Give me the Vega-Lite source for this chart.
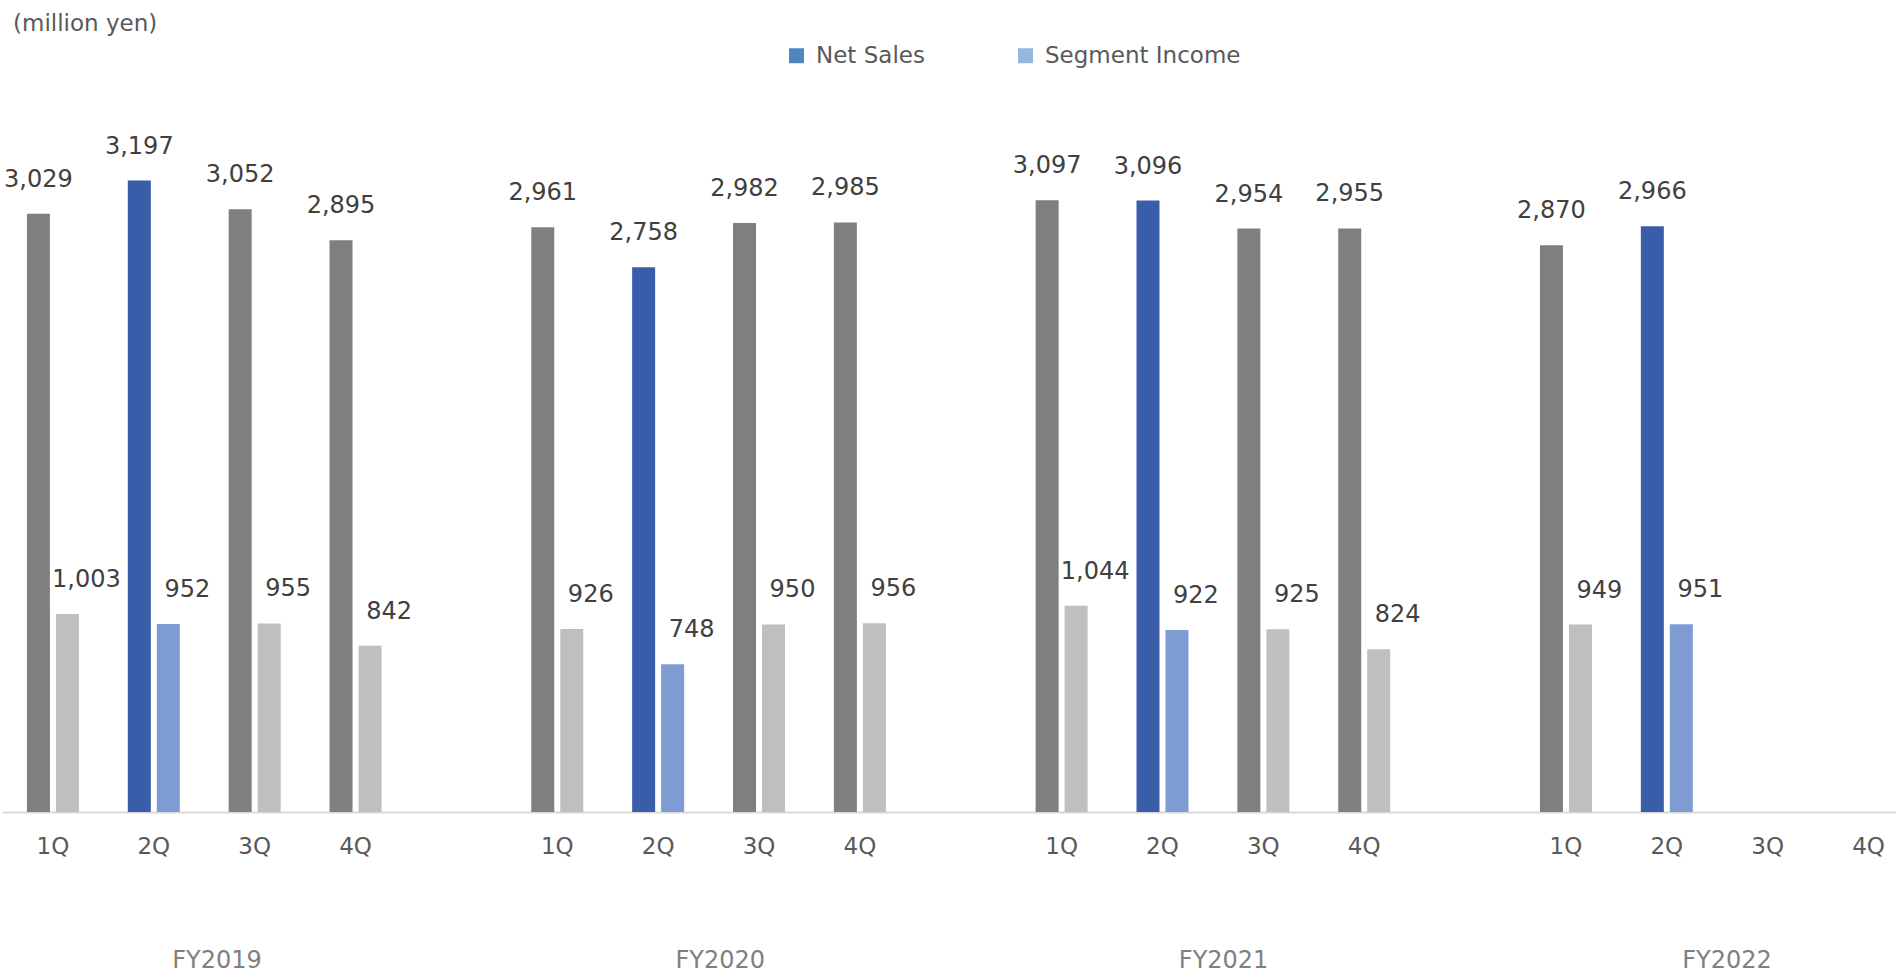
{
  "$schema": "https://vega.github.io/schema/vega-lite/v6.json",
  "width": 1896,
  "height": 711,
  "autosize": {"type": "none"},
  "padding": {"left": 0, "right": 0, "top": 101, "bottom": 162},
  "background": "white",
  "config": {"view": {"stroke": null}, "font": "DejaVu Sans"},
  "title": {
    "text": "(million yen)",
    "anchor": "start",
    "frame": "group",
    "orient": "top",
    "fontSize": 23,
    "fontWeight": "normal",
    "color": "#595959",
    "font": "DejaVu Sans",
    "baseline": "alphabetic",
    "dx": 13,
    "offset": -10
  },
  "datasets": {
    "sales": [
      {"fy": "FY2019", "q": "1Q", "slot": "FY2019|1Q", "series": "Net Sales", "value": 3029},
      {"fy": "FY2019", "q": "2Q", "slot": "FY2019|2Q", "series": "Net Sales", "value": 3197},
      {"fy": "FY2019", "q": "3Q", "slot": "FY2019|3Q", "series": "Net Sales", "value": 3052},
      {"fy": "FY2019", "q": "4Q", "slot": "FY2019|4Q", "series": "Net Sales", "value": 2895},
      {"fy": "FY2020", "q": "1Q", "slot": "FY2020|1Q", "series": "Net Sales", "value": 2961},
      {"fy": "FY2020", "q": "2Q", "slot": "FY2020|2Q", "series": "Net Sales", "value": 2758},
      {"fy": "FY2020", "q": "3Q", "slot": "FY2020|3Q", "series": "Net Sales", "value": 2982},
      {"fy": "FY2020", "q": "4Q", "slot": "FY2020|4Q", "series": "Net Sales", "value": 2985},
      {"fy": "FY2021", "q": "1Q", "slot": "FY2021|1Q", "series": "Net Sales", "value": 3097},
      {"fy": "FY2021", "q": "2Q", "slot": "FY2021|2Q", "series": "Net Sales", "value": 3096},
      {"fy": "FY2021", "q": "3Q", "slot": "FY2021|3Q", "series": "Net Sales", "value": 2954},
      {"fy": "FY2021", "q": "4Q", "slot": "FY2021|4Q", "series": "Net Sales", "value": 2955},
      {"fy": "FY2022", "q": "1Q", "slot": "FY2022|1Q", "series": "Net Sales", "value": 2870},
      {"fy": "FY2022", "q": "2Q", "slot": "FY2022|2Q", "series": "Net Sales", "value": 2966},
      {"fy": "FY2019", "q": "1Q", "slot": "FY2019|1Q", "series": "Segment Income", "value": 1003},
      {"fy": "FY2019", "q": "2Q", "slot": "FY2019|2Q", "series": "Segment Income", "value": 952},
      {"fy": "FY2019", "q": "3Q", "slot": "FY2019|3Q", "series": "Segment Income", "value": 955},
      {"fy": "FY2019", "q": "4Q", "slot": "FY2019|4Q", "series": "Segment Income", "value": 842},
      {"fy": "FY2020", "q": "1Q", "slot": "FY2020|1Q", "series": "Segment Income", "value": 926},
      {"fy": "FY2020", "q": "2Q", "slot": "FY2020|2Q", "series": "Segment Income", "value": 748},
      {"fy": "FY2020", "q": "3Q", "slot": "FY2020|3Q", "series": "Segment Income", "value": 950},
      {"fy": "FY2020", "q": "4Q", "slot": "FY2020|4Q", "series": "Segment Income", "value": 956},
      {"fy": "FY2021", "q": "1Q", "slot": "FY2021|1Q", "series": "Segment Income", "value": 1044},
      {"fy": "FY2021", "q": "2Q", "slot": "FY2021|2Q", "series": "Segment Income", "value": 922},
      {"fy": "FY2021", "q": "3Q", "slot": "FY2021|3Q", "series": "Segment Income", "value": 925},
      {"fy": "FY2021", "q": "4Q", "slot": "FY2021|4Q", "series": "Segment Income", "value": 824},
      {"fy": "FY2022", "q": "1Q", "slot": "FY2022|1Q", "series": "Segment Income", "value": 949},
      {"fy": "FY2022", "q": "2Q", "slot": "FY2022|2Q", "series": "Segment Income", "value": 951}
    ],
    "years": [
      {"fy": "FY2019"},
      {"fy": "FY2020"},
      {"fy": "FY2021"},
      {"fy": "FY2022"}
    ]
  },
  "layer": [
    {
      "data": {"name": "sales"},
      "encoding": {
        "x": {
          "field": "slot",
          "type": "nominal",
          "scale": {
            "type": "band",
            "domain": ["FY2019|1Q", "FY2019|2Q", "FY2019|3Q", "FY2019|4Q", "gap1",
                       "FY2020|1Q", "FY2020|2Q", "FY2020|3Q", "FY2020|4Q", "gap2",
                       "FY2021|1Q", "FY2021|2Q", "FY2021|3Q", "FY2021|4Q", "gap3",
                       "FY2022|1Q", "FY2022|2Q", "FY2022|3Q", "FY2022|4Q"],
            "range": [2.5, 1919],
            "paddingInner": 0.4845,
            "paddingOuter": 0.2422
          },
          "axis": {
            "orient": "bottom",
            "title": null,
            "labelExpr": "length(split(datum.value, '|')) > 1 ? split(datum.value, '|')[1] : ''",
            "labelAngle": 0,
            "labelFont": "DejaVu Sans",
            "labelFontSize": 23,
            "labelColor": "#595959",
            "labelPadding": 23,
            "labelBaseline": "top",
            "ticks": false,
            "domain": true,
            "domainColor": "#D9D9D9",
            "domainWidth": 2,
            "grid": false
          }
        },
        "xOffset": {
          "field": "series",
          "type": "nominal",
          "scale": {"domain": ["Net Sales", "Segment Income"], "paddingInner": 0.2069, "paddingOuter": 0}
        },
        "y": {
          "field": "value",
          "type": "quantitative",
          "scale": {"domain": [0, 3600], "nice": false},
          "axis": null
        }
      },
      "layer": [
        {
          "mark": {"type": "bar"},
          "encoding": {
            "color": {
              "condition": [
                {"test": "datum.q === '2Q' && datum.series === 'Net Sales'", "value": "#3A5DA9"},
                {"test": "datum.q === '2Q'", "value": "#7F9BD3"},
                {"test": "datum.series === 'Net Sales'", "value": "#7F7F7F"}
              ],
              "value": "#BFBFBF"
            }
          }
        },
        {
          "mark": {"type": "bar"},
          "encoding": {
            "y": {"datum": 0},
            "color": {
              "field": "series",
              "type": "nominal",
              "scale": {"domain": ["Net Sales", "Segment Income"], "range": ["#4F86BE", "#95B6DF"]},
              "legend": {
                "orient": "none",
                "legendX": 785,
                "legendY": -57,
                "direction": "horizontal",
                "title": null,
                "symbolType": "square",
                "symbolSize": 225,
                "symbolStrokeWidth": 0,
                "labelFont": "DejaVu Sans",
                "labelFontSize": 23,
                "labelColor": "#595959",
                "labelOffset": 8,
                "labelLimit": 300,
                "columnPadding": 89
              }
            }
          }
        },
        {
          "transform": [{"filter": "datum.series === 'Net Sales'"}],
          "mark": {"type": "text", "font": "DejaVu Sans", "fontSize": 24, "color": "#404040", "baseline": "alphabetic", "align": "center", "dy": -27},
          "encoding": {
            "text": {"field": "value", "type": "quantitative", "format": ","}
          }
        },
        {
          "transform": [{"filter": "datum.series === 'Segment Income'"}],
          "mark": {"type": "text", "font": "DejaVu Sans", "fontSize": 24, "color": "#404040", "baseline": "alphabetic", "align": "center", "dy": -27, "dx": 19},
          "encoding": {
            "text": {"field": "value", "type": "quantitative", "format": ","}
          }
        }
      ]
    },
    {
      "data": {"name": "years"},
      "mark": {"type": "point", "opacity": 0},
      "encoding": {
        "x": {
          "field": "fy",
          "type": "nominal",
          "scale": {
            "type": "band",
            "domain": ["FY2019", "FY2020", "FY2021", "FY2022"],
            "range": [-34.7, 1978.6],
            "paddingInner": 0,
            "paddingOuter": 0
          },
          "axis": {
            "orient": "bottom",
            "title": null,
            "labelAngle": 0,
            "labelFont": "DejaVu Sans",
            "labelFontSize": 24,
            "labelColor": "#808080",
            "labelPadding": 136,
            "labelBaseline": "top",
            "ticks": false,
            "domain": false,
            "grid": false
          }
        }
      }
    }
  ],
  "resolve": {"scale": {"x": "independent"}, "axis": {"x": "independent"}}
}
